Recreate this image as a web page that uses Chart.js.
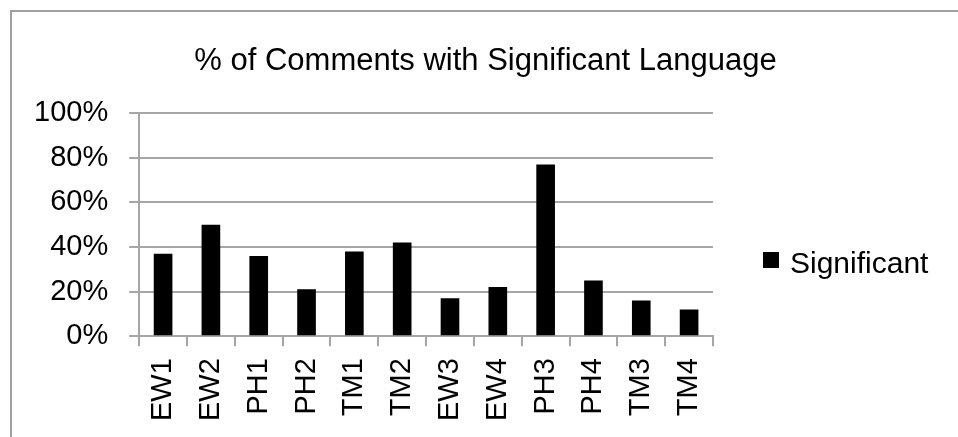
<!DOCTYPE html>
<html>
<head>
<meta charset="utf-8">
<script src="https://cdn.jsdelivr.net/npm/chart.js@4.4.1/dist/chart.umd.min.js"></script>
<style>
  html, body { margin: 0; padding: 0; background: #fff; overflow: hidden; }
  #wrap { width: 958px; height: 437px; position: relative; }
</style>
</head>
<body>
<div id="wrap"><canvas id="commentsBar"></canvas></div>
<script>
const categories = ["EW1", "EW2", "PH1", "PH2", "TM1", "TM2", "EW3", "EW4", "PH3", "PH4", "TM3", "TM4"];
const significantValues = [37, 50, 36, 21, 38, 42, 17, 22, 77, 25, 16, 12];
const yTicks = [0, 20, 40, 60, 80, 100];

const FONT = "'Liberation Sans', Arial, Helvetica, sans-serif";
const GRID = "#a6a6a6";

// outer chart frame (only top and left edges are visible in the window)
const framePlugin = {
  id: "frame",
  beforeDraw(chart) {
    const ctx = chart.ctx;
    ctx.save();
    ctx.fillStyle = "#fff";
    ctx.fillRect(0, 0, chart.width, chart.height);
    ctx.strokeStyle = "#a0a0a0";
    ctx.lineWidth = 2;
    ctx.beginPath();
    ctx.moveTo(11, chart.height);
    ctx.lineTo(11, 11);
    ctx.lineTo(chart.width, 11);
    ctx.stroke();
    ctx.restore();
  }
};

// legend drawn to the right, centred on the whole frame like Excel does
const sideLegend = {
  id: "sideLegend",
  afterDraw(chart) {
    const ctx = chart.ctx;
    const ds = chart.data.datasets[0];
    const x = chart.chartArea.right + 50;
    const y = 252;
    ctx.save();
    ctx.fillStyle = ds.backgroundColor;
    ctx.fillRect(x, y, 16, 16);
    ctx.fillStyle = "#000";
    ctx.font = "30px " + FONT;
    ctx.textBaseline = "alphabetic";
    ctx.fillText(ds.label, x + 27, 273);
    ctx.restore();
  }
};

new Chart(document.getElementById("commentsBar"), {
  type: "bar",
  data: {
    labels: categories,
    datasets: [
      {
        label: "Significant",
        data: significantValues,
        backgroundColor: "#000",
        barPercentage: 0.39,
        categoryPercentage: 1.0,
      },
    ],
  },
  options: {
    responsive: true,
    maintainAspectRatio: false,
    animation: false,
    layout: { padding: { left: 13, right: 0, top: 0, bottom: 4 } },
    plugins: {
      legend: { display: false },
      tooltip: { enabled: false },
      title: {
        display: true,
        text: "% of Comments with Significant Language",
        color: "#000",
        font: { family: FONT, size: 31, weight: "normal" },
        padding: { top: 43, bottom: 33 },
      },
    },
    scales: {
      x: {
        grid: {
          offset: true,
          drawOnChartArea: false,
          drawTicks: true,
          tickLength: 10,
          color: GRID,
          lineWidth: 2,
        },
        border: { color: GRID, width: 2 },
        ticks: {
          color: "#000",
          font: { family: FONT, size: 29 },
          minRotation: 90,
          maxRotation: 90,
          padding: 12,
          autoSkip: false,
        },
      },
      y: {
        min: 0,
        max: 100,
        afterBuildTicks(scale) {
          scale.ticks = yTicks.map((v) => ({ value: v }));
        },
        grid: {
          color: GRID,
          lineWidth: 2,
          tickLength: 10,
        },
        border: { color: GRID, width: 2 },
        ticks: {
          color: "#000",
          font: { family: FONT, size: 29 },
          padding: 21,
          callback: (v) => v + "%",
        },
      },
      // empty right axis that only reserves room for the legend
      legendSpace: {
        position: "right",
        min: 0,
        max: 100,
        grid: { display: false },
        border: { display: false },
        ticks: { display: false },
        afterFit(scale) {
          scale.width = 245;
        },
      },
    },
  },
  plugins: [framePlugin, sideLegend],
});
</script>
</body>
</html>
